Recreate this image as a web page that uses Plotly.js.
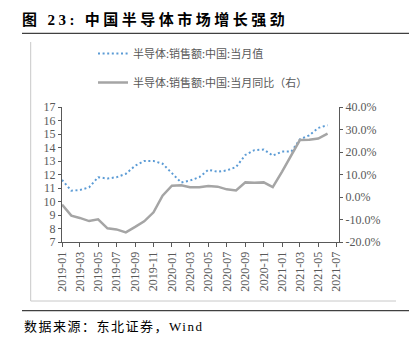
<!DOCTYPE html>
<html>
<head>
<meta charset="utf-8">
<script src="https://cdn.plot.ly/plotly-3.0.1.min.js"></script>
<style>
html,body{margin:0;padding:0;background:#fff;}
#chart{width:409px;height:337px;}
.gtitle{letter-spacing:3.5px;}
.annotation-text{letter-spacing:1.5px;}
</style>
</head>
<body>
<div id="chart"></div>
<script>
// Months (2019-01 .. 2021-06)
const months = [
  "2019-01","2019-02","2019-03","2019-04","2019-05","2019-06","2019-07","2019-08","2019-09","2019-10","2019-11","2019-12",
  "2020-01","2020-02","2020-03","2020-04","2020-05","2020-06","2020-07","2020-08","2020-09","2020-10","2020-11","2020-12",
  "2021-01","2021-02","2021-03","2021-04","2021-05","2021-06"
];
// 半导体:销售额:中国:当月值 (left axis)
const salesValue = [
  11.6, 10.8, 10.85, 11.05, 11.8, 11.7, 11.8, 12.05, 12.65, 13.0, 13.0, 12.8,
  12.1, 11.4, 11.55, 11.8, 12.35, 12.2, 12.3, 12.55, 13.45, 13.8, 13.85, 13.4,
  13.7, 13.7, 14.6, 14.9, 15.45, 15.65
];
// 半导体:销售额:中国:当月同比 (right axis, %)
const salesYoY = [
  -3.4, -8.3, -9.3, -10.7, -9.9, -13.9, -14.4, -15.7, -13.3, -10.8, -6.8, 0.6,
  5.0, 5.2, 4.3, 4.3, 4.9, 4.6, 3.4, 2.9, 6.5, 6.3, 6.5, 4.4,
  11.3, 18.5, 25.3, 25.4, 26.0, 28.2
];
const seriesNames = ["半导体:销售额:中国:当月值", "半导体:销售额:中国:当月同比（右）"];
const leftTicks = [7,8,9,10,11,12,13,14,15,16,17];
const rightTicks = [-20,-10,0,10,20,30,40];

const W = 409, H = 337;
const M = {l:62, r:70, t:107, b:95};
const pw = W - M.l - M.r, ph = H - M.t - M.b;
const px = x => (x - M.l) / pw;
const py = y => (H - M.b - y) / ph;

const axisFont = {family:"Liberation Serif, Times New Roman, serif", size:12, color:"#595959"};

const traces = [
  {
    x: months, y: salesValue, name: seriesNames[0], type: "scatter", mode: "lines",
    line: {color:"#5B9BD5", width:2, dash:"2px,2.6px"}, yaxis: "y", legendgroup:"a"
  },
  {
    x: months, y: salesYoY, name: seriesNames[1], type: "scatter", mode: "lines",
    line: {color:"#A5A5A5", width:2.5}, yaxis: "y2", legendgroup:"b"
  }
];

const layout = {
  width: W, height: H,
  margin: {l:M.l, r:M.r, t:M.t, b:M.b, pad:0},
  paper_bgcolor: "#fff", plot_bgcolor: "#fff",
  title: {
    text: "<b>图 <span style=\"font-family:Liberation Serif\">23:</span> 中国半导体市场增长强劲</b>",
    font: {family:"Noto Sans CJK SC", size:15, color:"#000"},
    x: 22/W, xanchor:"left", xref:"container",
    y: 1 - 20/H, yanchor:"middle", yref:"container"
  },
  showlegend: true,
  legend: {
    x: px(93), xanchor:"left", y: py(39), yanchor:"top",
    bgcolor:"rgba(0,0,0,0)", traceorder:"grouped", tracegroupgap: 10,
    font: {family:"Noto Sans CJK SC", size:11, color:"#595959"}
  },
  xaxis: {
    type: "date", range: ["2019-01-01", "2021-07-09"],
    tick0: "2019-01-01", dtick: "M2", tickformat: "%Y-%m", tickangle: -90,
    ticks: "outside", ticklen: 4, tickcolor: "#595959", tickwidth: 1,
    showline: true, linecolor: "#595959", linewidth: 1, showgrid: false, zeroline: false,
    tickfont: axisFont
  },
  yaxis: {
    range: [7, 17], tickvals: leftTicks, ticks: "outside", ticklen: 3, tickcolor:"#595959",
    showline: true, linecolor: "#595959", linewidth: 1, showgrid: false, zeroline: false,
    tickfont: axisFont
  },
  yaxis2: {
    range: [-20, 40], tickvals: rightTicks, ticktext: rightTicks.map(v => v.toFixed(1) + "%"),
    overlaying: "y", side: "right", ticks: "outside", ticklen: 3, tickcolor:"#595959",
    showline: true, linecolor: "#595959", linewidth: 1, showgrid: false, zeroline: false,
    tickfont: {family:"Liberation Serif, Times New Roman, serif", size:12, color:"#595959"}
  },
  shapes: [
    {type:"line", xref:"paper", yref:"paper", x0:px(22), x1:px(409), y0:py(33.3), y1:py(33.3), line:{color:"#404040", width:1.2}},
    {type:"line", xref:"paper", yref:"paper", x0:px(30.7), x1:px(30.7), y0:py(42), y1:py(301), line:{color:"#C8C8C8", width:1}},
    {type:"line", xref:"paper", yref:"paper", x0:px(30.7), x1:px(396), y0:py(301), y1:py(301), line:{color:"#C8C8C8", width:1}},
    {type:"line", xref:"paper", yref:"paper", x0:px(22), x1:px(409), y0:py(310.7), y1:py(310.7), line:{color:"#404040", width:1.2}}
  ],
  annotations: [
    {text:"数据来源：东北证券，<span style=\"font-family:Liberation Serif\">Wind</span>", xref:"paper", yref:"paper",
     x:px(22), y:py(325), xanchor:"left", yanchor:"middle", showarrow:false,
     font:{family:"Noto Sans CJK SC", size:13, color:"#000"}}
  ]
};

Plotly.newPlot("chart", traces, layout, {staticPlot:true, displayModeBar:false});
</script>
</body>
</html>
